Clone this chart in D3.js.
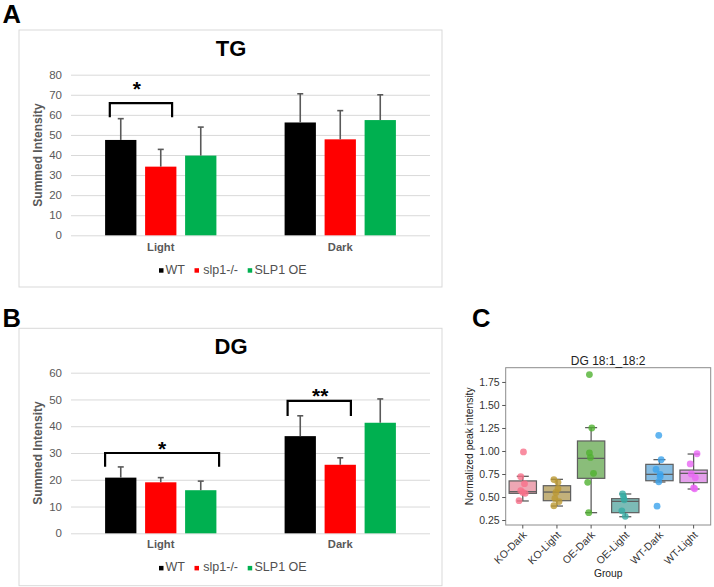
<!DOCTYPE html>
<html><head><meta charset="utf-8">
<script src="https://cdn.jsdelivr.net/npm/d3@7"></script>
<style>body{margin:0;background:#fff;} svg text{font-family:"Liberation Sans",Arial,Helvetica,sans-serif;}</style>
</head><body><svg id="c" width="714" height="587"></svg>
<script>
// ---------- DATA ----------
const categories = ["Light", "Dark"];
const series = ["WT", "slp1-/-", "SLP1 OE"];
const seriesColors = ["#000000", "#ff0000", "#00b050"];

// Panel A: TG summed intensity (mean, upper error)
const tgWT = [47.5, 56.2];
const tgSlp1 = [34.2, 47.8];
const tgOE = [39.7, 57.4];
const tgWTErr = [10.6, 14.3];
const tgSlp1Err = [8.6, 14.3];
const tgOEErr = [14.2, 12.6];
const tgTicks = [0, 10, 20, 30, 40, 50, 60, 70, 80];

// Panel B: DG summed intensity
const dgWT = [20.8, 36.3];
const dgSlp1 = [19.05, 25.6];
const dgOE = [16.1, 41.3];
const dgWTErr = [4.0, 7.6];
const dgSlp1Err = [1.75, 2.6];
const dgOEErr = [3.4, 8.9];
const dgTicks = [0, 10, 20, 30, 40, 50, 60];

// Panel C: DG 18:1_18:2 normalized peak intensity
const groups = ["KO-Dark", "KO-Light", "OE-Dark", "OE-Light", "WT-Dark", "WT-Light"];
const groupColors = ["#f77189", "#bb9832", "#50b131", "#36ada4", "#3ba3ec", "#e866f4"];
const boxQ1 = [0.540, 0.460, 0.703, 0.330, 0.677, 0.656];
const boxMedian = [0.558, 0.554, 0.920, 0.453, 0.746, 0.757];
const boxQ3 = [0.675, 0.623, 1.109, 0.482, 0.855, 0.793];
const whiskerLow = [0.457, 0.402, 0.330, 0.286, 0.663, 0.587];
const whiskerHigh = [0.725, 0.692, 1.254, 0.533, 0.906, 0.967];
const ptsKODark = [0.99, 0.72, 0.645, 0.57, 0.55, 0.54, 0.46];
const ptsKOLight = [0.69, 0.66, 0.59, 0.55, 0.485, 0.45, 0.405];
const ptsOEDark = [1.83, 1.25, 0.98, 0.93, 0.757, 0.66, 0.33];
const ptsOELight = [0.535, 0.50, 0.47, 0.35, 0.29];
const ptsWTDark = [1.17, 0.905, 0.80, 0.745, 0.72, 0.665, 0.40];
const ptsWTLight = [0.97, 0.86, 0.75, 0.71, 0.60, 0.59];
// strip jitter (fraction of category width)
const jitKODark = [0.02, -0.06, 0.05, -0.06, 0.0, 0.07, -0.11];
const jitKOLight = [-0.09, 0.03, 0.03, -0.03, -0.06, 0.06, -0.09];
const jitOEDark = [-0.05, 0.02, -0.05, -0.02, 0.07, -0.10, -0.07];
const jitOELight = [-0.08, -0.05, -0.03, -0.10, 0.0];
const jitWTDark = [-0.02, 0.05, -0.10, 0.02, 0.02, -0.02, -0.07];
const jitWTLight = [0.10, -0.10, -0.07, 0.05, 0.0, 0.03];

// ---------- DRAW ----------
const svg = d3.select("#c");

function panelLetter(x, y, t) {
  svg.append("text").attr("x", x).attr("y", y).attr("font-size", 25.5).attr("font-weight", "bold").attr("fill", "#000").text(t);
}
panelLetter(2.5, 23.3, "A");
panelLetter(2.5, 327, "B");
panelLetter(472, 327, "C");

function barPanel(cfg) {
  const g = svg.append("g");
  g.append("rect").attr("x", 19).attr("y", cfg.top).attr("width", 423).attr("height", cfg.height)
    .attr("fill", "#fff").attr("stroke", "#d9d9d9").attr("stroke-width", 1);
  g.append("text").attr("x", 231).attr("y", cfg.titleY).attr("text-anchor", "middle")
    .attr("font-size", 22).attr("font-weight", "bold").attr("fill", "#000").text(cfg.title);

  const y = d3.scaleLinear().domain([0, d3.max(cfg.ticks)]).range(cfg.yRange);
  const x0 = d3.scaleBand().domain(categories).range([71, 430]);
  const bw = x0.bandwidth();
  const x1 = d3.scaleBand().domain(series).range([bw / 2 - 60, bw / 2 + 60]).paddingInner(0.2175).paddingOuter(0.10875);

  const ya = g.append("g").attr("transform", "translate(71,0)")
    .call(d3.axisLeft(y).tickValues(cfg.ticks).tickSize(-359).tickPadding(9).tickFormat(d3.format("d")));
  ya.select(".domain").remove();
  ya.selectAll("line").attr("stroke", "#d9d9d9").attr("stroke-width", 1);
  ya.selectAll("text").attr("font-size", 11.5).attr("fill", "#595959").style("font-family", '"Liberation Sans",Arial,sans-serif');

  g.append("text").attr("transform", `translate(42,${(cfg.yRange[0] + cfg.yRange[1]) / 2}) rotate(-90)`)
    .attr("text-anchor", "middle").attr("font-size", 12).attr("font-weight", "bold").attr("fill", "#595959")
    .text("Summed Intensity");

  series.forEach((s, i) => {
    const vals = cfg.values[i], errs = cfg.errs[i];
    categories.forEach((c, j) => {
      const bx = x0(c) + x1(s);
      g.append("rect").attr("x", bx).attr("y", y(vals[j])).attr("width", x1.bandwidth())
        .attr("height", y(0) - y(vals[j])).attr("fill", seriesColors[i]);
      const cx = bx + x1.bandwidth() / 2;
      const yt = y(vals[j] + errs[j]);
      g.append("line").attr("x1", cx).attr("x2", cx).attr("y1", y(vals[j])).attr("y2", yt)
        .attr("stroke", "#595959").attr("stroke-width", 1.6);
      g.append("line").attr("x1", cx - 3).attr("x2", cx + 3).attr("y1", yt).attr("y2", yt)
        .attr("stroke", "#595959").attr("stroke-width", 1.6);
    });
  });

  categories.forEach(c => {
    g.append("text").attr("x", x0(c) + bw / 2).attr("y", cfg.catY).attr("text-anchor", "middle")
      .attr("font-size", 11.2).attr("font-weight", "bold").attr("fill", "#595959").text(c);
  });

  cfg.brackets.forEach(b => {
    const xa = x0(b.cat) + x1(b.from) + b.dx0;
    const xb = x0(b.cat) + x1(b.to) + x1.bandwidth() + b.dx1;
    const yh = y(b.level), yl = y(b.leg);
    g.append("path").attr("d", `M${xa},${yl}V${yh}H${xb}V${yl}`).attr("fill", "none")
      .attr("stroke", "#000").attr("stroke-width", 2.2);
    g.append("text").attr("x", (xa + xb) / 2 + b.sx).attr("y", yh - b.sy).attr("text-anchor", "middle")
      .attr("font-size", 21).attr("font-weight", "bold").attr("fill", "#000").text(b.label);
  });

  const legX = [[159, 165.5], [194.5, 203.3], [247.7, 254.5]];
  series.forEach((s, i) => {
    g.append("rect").attr("x", legX[i][0]).attr("y", cfg.legY - 5.5).attr("width", 4.5).attr("height", 4.5).attr("fill", seriesColors[i]);
    g.append("text").attr("x", legX[i][1]).attr("y", cfg.legY).attr("font-size", 12.5).attr("fill", "#505050").text(s);
  });
}

barPanel({
  top: 30, height: 257, title: "TG", titleY: 56, ticks: tgTicks, yRange: [235.3, 74.7],
  values: [tgWT, tgSlp1, tgOE], errs: [tgWTErr, tgSlp1Err, tgOEErr],
  catY: 250.5, legY: 273.7,
  brackets: [{cat: "Light", from: "WT", to: "slp1-/-", level: 65.8, leg: 58.8, label: "*", dx0: 4.7, dx1: -4.3, sx: -4, sy: 7.3}]
});
barPanel({
  top: 328.3, height: 257.4, title: "DG", titleY: 354.3, ticks: dgTicks, yRange: [533.3, 372.7],
  values: [dgWT, dgSlp1, dgOE], errs: [dgWTErr, dgSlp1Err, dgOEErr],
  catY: 548.3, legY: 571.4,
  brackets: [
    {cat: "Light", from: "WT", to: "SLP1 OE", level: 30, leg: 24.9, label: "*", dx0: 0, dx1: 2.7, sx: 0, sy: -2.5},
    {cat: "Dark", from: "WT", to: "slp1-/-", level: 49.5, leg: 43.8, label: "**", dx0: 3, dx1: -5, sx: 1, sy: -2.3}
  ]
});

// ---------- Panel C ----------
(function () {
  const g = svg.append("g");
  const L = 505.7, R = 710.7, T = 367.7, B = 525;
  const x = d3.scaleBand().domain(groups).range([L, R]);
  const y = d3.scaleLinear().domain([0.196, 1.905]).range([B, T]);
  const bw = x.bandwidth() * 0.8;
  const points = [ptsKODark, ptsKOLight, ptsOEDark, ptsOELight, ptsWTDark, ptsWTLight];
  const jit = [jitKODark, jitKOLight, jitOEDark, jitOELight, jitWTDark, jitWTLight];
  const edge = "#5e5e5e";

  groups.forEach((grp, i) => {
    const cx = x(grp) + x.bandwidth() / 2;
    const h = d3.hsl(groupColors[i]); h.s *= 0.75;
    g.append("line").attr("x1", cx).attr("x2", cx).attr("y1", y(boxQ3[i])).attr("y2", y(whiskerHigh[i])).attr("stroke", edge).attr("stroke-width", 1.3);
    g.append("line").attr("x1", cx).attr("x2", cx).attr("y1", y(boxQ1[i])).attr("y2", y(whiskerLow[i])).attr("stroke", edge).attr("stroke-width", 1.3);
    [whiskerHigh[i], whiskerLow[i]].forEach(v => {
      g.append("line").attr("x1", cx - bw * 0.22).attr("x2", cx + bw * 0.22).attr("y1", y(v)).attr("y2", y(v)).attr("stroke", edge).attr("stroke-width", 1.3);
    });
    g.append("rect").attr("x", cx - bw / 2).attr("y", y(boxQ3[i])).attr("width", bw).attr("height", y(boxQ1[i]) - y(boxQ3[i]))
      .attr("fill", h.formatHex()).attr("fill-opacity", 0.7).attr("stroke", edge).attr("stroke-width", 1.2);
    g.append("line").attr("x1", cx - bw / 2).attr("x2", cx + bw / 2).attr("y1", y(boxMedian[i])).attr("y2", y(boxMedian[i])).attr("stroke", edge).attr("stroke-width", 1.3);
    points[i].forEach((v, k) => {
      g.append("circle").attr("cx", cx + jit[i][k] * x.bandwidth()).attr("cy", y(v)).attr("r", 3.4)
        .attr("fill", groupColors[i]).attr("fill-opacity", 0.8);
    });
  });

  g.append("rect").attr("x", L).attr("y", T).attr("width", R - L).attr("height", B - T)
    .attr("fill", "none").attr("stroke", "#8c8c8c").attr("stroke-width", 1);

  const ya = g.append("g").attr("transform", `translate(${L},0)`)
    .call(d3.axisLeft(y).tickValues([0.25, 0.5, 0.75, 1.0, 1.25, 1.5, 1.75]).tickFormat(d3.format(".2f")).tickSize(3.5).tickPadding(2.5));
  ya.select(".domain").remove();
  ya.selectAll("line").attr("stroke", "#555");
  ya.selectAll("text").attr("font-size", 10.5).attr("fill", "#333").style("font-family", '"Liberation Sans",Arial,sans-serif');

  const xa = g.append("g").attr("transform", `translate(0,${B})`)
    .call(d3.axisBottom(x).tickSize(3.5));
  xa.select(".domain").remove();
  xa.selectAll("line").attr("stroke", "#555");
  xa.selectAll("text").attr("font-size", 10.5).attr("fill", "#333").style("font-family", '"Liberation Sans",Arial,sans-serif')
    .attr("text-anchor", "end").attr("y", 0).attr("dy", "0.35em").attr("transform", "translate(2,8) rotate(-45)");

  g.append("text").attr("x", (L + R) / 2).attr("y", 365).attr("text-anchor", "middle").attr("font-size", 12).attr("fill", "#222").text("DG 18:1_18:2");
  g.append("text").attr("x", (L + R) / 2).attr("y", 577).attr("text-anchor", "middle").attr("font-size", 10.3).attr("fill", "#222").text("Group");
  g.append("text").attr("transform", `translate(472.5,${(T + B) / 2}) rotate(-90)`).attr("text-anchor", "middle")
    .attr("font-size", 10.3).attr("fill", "#222").text("Normalized peak intensity");
})();
</script>
</body></html>
